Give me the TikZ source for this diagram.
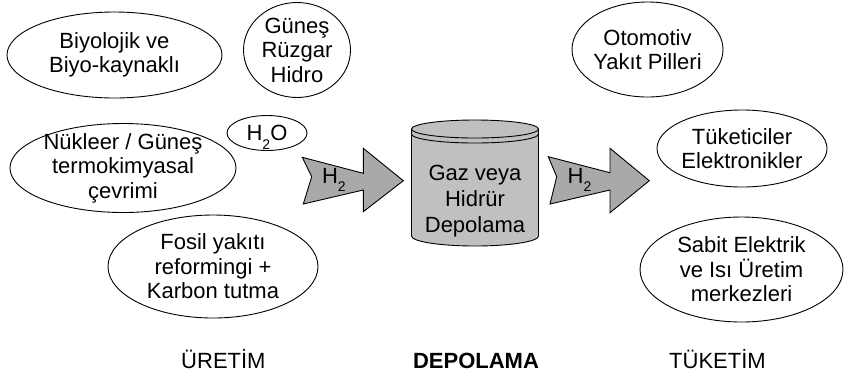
\documentclass[tikz,border=0pt]{standalone}
\usepackage{fontspec}
\setmainfont{Liberation Sans}
\usetikzlibrary{shapes.geometric}
\definecolor{arrowgray}{HTML}{A9A9A9}
\definecolor{cylgray}{HTML}{C0C0C0}
\newcommand\mysubtwo{\raisebox{-8.5pt}{\fontsize{14}{14}\selectfont 2}}
\begin{document}
\begin{tikzpicture}[x=1pt,y=-1pt,
  every node/.style={font=\fontsize{22}{24.5}\selectfont, inner sep=0pt, outer sep=0pt},
  oval/.style={draw, ellipse, line width=0.9pt},
  txt/.style={align=center},
  bigarrow/.style={draw, fill=arrowgray, line width=0.9pt, line join=miter},
  cylline/.style={draw, line width=0.9pt}]
\useasboundingbox (0,0) rectangle (845,376);

% production ellipses
\node[oval, minimum width=215pt, minimum height=86pt] (bio) at (114.5,55) {};
\node[txt] (bio-t) at (bio) {Biyolojik ve\\Biyo-kaynaklı};
\node[oval, minimum width=107pt, minimum height=95pt] (gun) at (297,50) {};
\node[txt] (gun-t) at (gun) {Güneş\\Rüzgar\\Hidro};
\node[oval, minimum width=80pt, minimum height=35pt] (hho) at (267,133) {};
\node[anchor=base] (hho-t) at (267,140.5) {H\mysubtwo O};
\node[oval, minimum width=226pt, minimum height=89pt] (nuk) at (123,168) {};
\node[txt] (nuk-t) at (nuk) {Nükleer / Güneş\\termokimyasal\\çevrimi};
\node[oval, minimum width=210pt, minimum height=103pt] (fos) at (213,266.5) {};
\node[txt] (fos-t) at (fos) {Fosil yakıtı\\reformingi +\\Karbon tutma};

% consumption ellipses
\node[oval, minimum width=151pt, minimum height=95pt] (oto) at (647.5,49.5) {};
\node[txt] (oto-t) at (oto) {Otomotiv\\Yakıt Pilleri};
\node[oval, minimum width=170pt, minimum height=77pt] (tuk) at (742,148.5) {};
\node[txt] (tuk-t) at (tuk) {Tüketiciler\\Elektronikler};
\node[oval, minimum width=203pt, minimum height=105pt] (sab) at (741.5,269.5) {};
\node[txt] (sab-t) at (sab) {Sabit Elektrik\\ve Isı Üretim\\merkezleri};

% arrows
\draw[bigarrow] (302.3,157.3) -- (363.3,173.3) -- (363.3,148.3) -- (403.3,180.7)
  -- (363.3,211.7) -- (363.3,190) -- (303.3,204) -- (311.7,176.7) -- cycle;
\node[anchor=base west] (h2a) at (322,183) {H\mysubtwo};
\draw[bigarrow] (548.3,156.7) -- (610,172.7) -- (610,148.3) -- (649.3,180.7)
  -- (610,212.7) -- (610,190) -- (550,204) -- (556.7,176.7) -- cycle;
\node[anchor=base west] (h2b) at (567.7,183) {H\mysubtwo};

% storage cylinder
\fill[cylgray] (411.5,129) -- (411.5,236) arc[start angle=180, end angle=0, x radius=63.5, y radius=10]
  -- (538.5,129) arc[start angle=0, end angle=-180, x radius=63.5, y radius=9] -- cycle;
\draw[cylline] (411.5,129) -- (411.5,236) arc[start angle=180, end angle=0, x radius=63.5, y radius=10] -- (538.5,129);
\draw[cylline] (475,129) ellipse[x radius=63.5, y radius=9];
\draw[cylline] (411.5,134) arc[start angle=180, end angle=0, x radius=63.5, y radius=9];
\node[txt, font=\fontsize{22}{26}\selectfont] (store) at (475,201) {Gaz veya\\Hidrür\\Depolama};

% section titles
\node[anchor=base] (uret) at (223.4,368) {ÜRETİM};
\node[anchor=base, font=\fontsize{22}{24.5}\selectfont\bfseries] (depo) at (476,368) {DEPOLAMA};
\node[anchor=base] (tuket) at (717.5,368) {TÜKETİM};
\end{tikzpicture}
\end{document}
